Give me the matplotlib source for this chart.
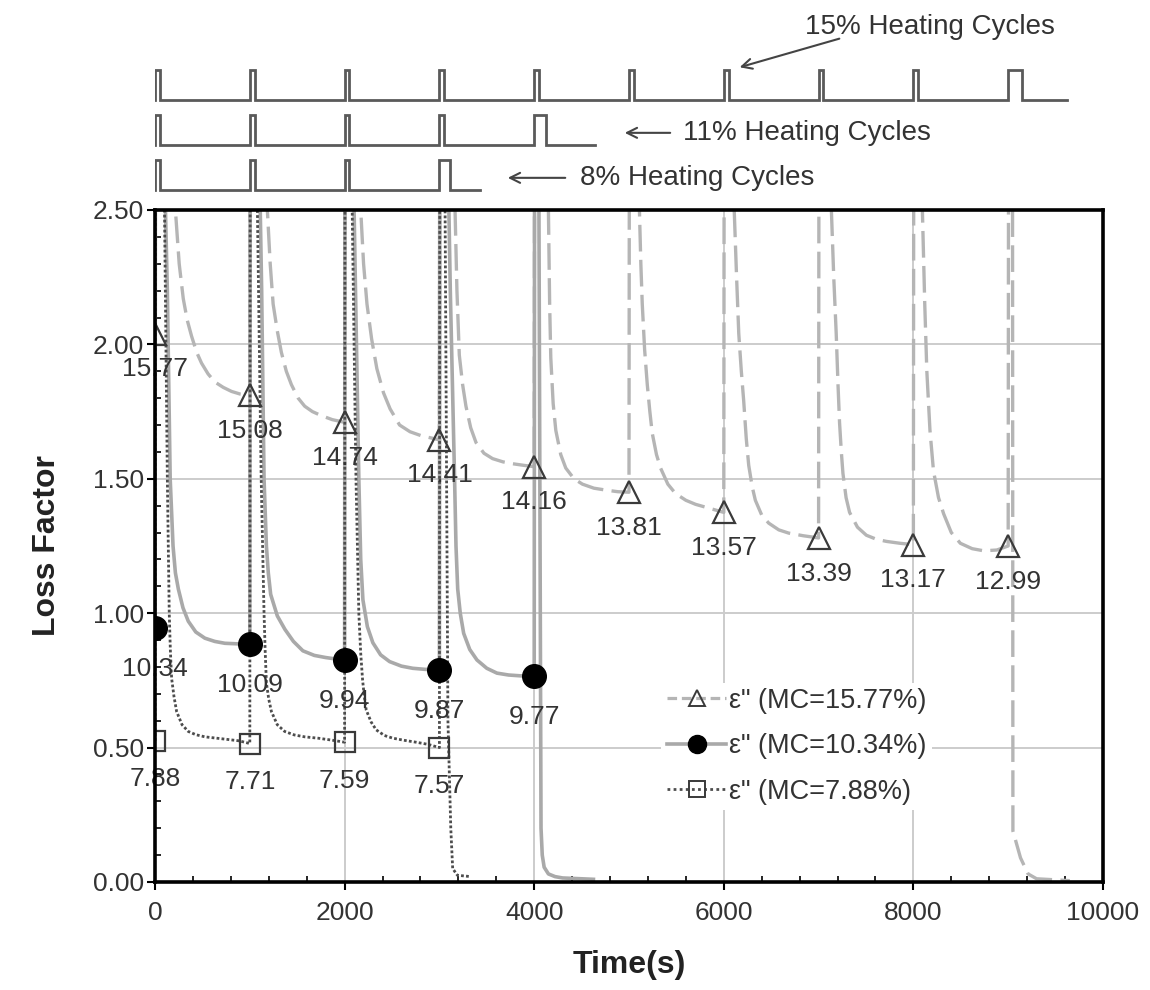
import matplotlib
matplotlib.use("Agg")
import matplotlib.pyplot as plt
from matplotlib.lines import Line2D
from matplotlib.ticker import MultipleLocator, FormatStrFormatter

plt.rcParams.update({'font.family': ['Liberation Sans', 'DejaVu Sans'], 'font.size': 19})

# ---- traced series (time in s, loss factor); values above 2.50 are clipped spikes ----
mc15_t = [0, 5, 200, 215, 255, 298, 340, 386, 440, 491, 560, 632, 720, 807, 900,
          1000, 1005, 1170, 1185, 1215, 1246, 1290, 1333, 1385, 1439, 1510, 1579, 1660, 1754, 1870,
          2000, 2005, 2155, 2170, 2200, 2236, 2285, 2340, 2410, 2480, 2580, 2690, 2810, 2935,
          3000, 3005, 3150, 3165, 3185, 3210, 3245, 3280, 3330, 3386, 3470, 3561, 3670, 3772, 3890,
          4000, 4005, 4135, 4150, 4163, 4175, 4200, 4228, 4280, 4333, 4420, 4509, 4630, 4754, 4880,
          5000, 5005, 5100, 5110, 5125, 5140, 5165, 5193, 5220, 5245, 5290, 5333, 5410, 5491, 5600, 5702, 5850,
          6000, 6005, 6100, 6110, 6135, 6158, 6185, 6210, 6237, 6263, 6300, 6333, 6400, 6474, 6580, 6684, 6840,
          7000, 7005, 7120, 7135, 7160, 7186, 7205, 7221, 7240, 7257, 7290, 7327, 7410, 7504, 7610, 7717, 7860,
          8000, 8005, 8080, 8095, 8120, 8142, 8175, 8212, 8265, 8319, 8400, 8496, 8620, 8743, 8880,
          9000, 9005, 9045, 9050, 9130, 9210, 9300, 9650]
mc15_v = [2.04, 3.2, 3.2, 2.5, 2.3, 2.17, 2.09, 2.03, 1.97, 1.93, 1.89, 1.86, 1.84, 1.825, 1.815,
          1.81, 3.2, 3.2, 2.5, 2.3, 2.15, 2.05, 1.97, 1.90, 1.85, 1.80, 1.77, 1.75, 1.735, 1.72,
          1.71, 3.2, 3.2, 2.5, 2.3, 2.15, 2.02, 1.91, 1.82, 1.76, 1.70, 1.675, 1.66, 1.65,
          1.645, 3.2, 3.2, 2.5, 2.2, 1.96, 1.85, 1.77, 1.69, 1.635, 1.595, 1.575, 1.563, 1.556, 1.55,
          1.545, 3.2, 3.2, 2.5, 2.15, 1.95, 1.78, 1.68, 1.59, 1.54, 1.50, 1.48, 1.465, 1.458, 1.452,
          1.45, 3.2, 3.2, 2.5, 2.3, 2.15, 1.98, 1.85, 1.75, 1.67, 1.59, 1.54, 1.48, 1.445, 1.42, 1.405, 1.39,
          1.375, 3.2, 3.2, 2.5, 2.25, 2.04, 1.9, 1.79, 1.65, 1.55, 1.47, 1.42, 1.365, 1.335, 1.31, 1.298, 1.288,
          1.28, 3.2, 3.2, 2.5, 2.25, 2.04, 1.85, 1.71, 1.6, 1.52, 1.43, 1.375, 1.32, 1.29, 1.275, 1.267, 1.26,
          1.255, 3.2, 3.2, 2.5, 2.15, 1.9, 1.68, 1.53, 1.43, 1.37, 1.30, 1.26, 1.24, 1.232, 1.235,
          1.25, 3.2, 3.2, 0.19, 0.09, 0.03, 0.012, 0.005]

mc10_t = [0, 5, 100, 110, 130, 160, 190, 215, 246, 295, 351, 430, 526, 630, 737, 870,
          1000, 1005, 1100, 1110, 1125, 1150, 1175, 1195, 1220, 1290, 1370, 1460, 1560, 1680, 1800, 1900,
          2000, 2005, 2090, 2100, 2115, 2150, 2170, 2193, 2240, 2298, 2380, 2474, 2600, 2719, 2850,
          3000, 3005, 3090, 3100, 3115, 3160, 3175, 3193, 3220, 3256, 3320, 3396, 3500, 3607, 3730, 3853,
          4000, 4005, 4040, 4050, 4072, 4085, 4105, 4150, 4220, 4300, 4625]
mc10_v = [0.944, 3.2, 3.2, 2.5, 2.2, 1.5, 1.25, 1.15, 1.09, 1.02, 0.97, 0.93, 0.907, 0.895, 0.888, 0.886,
          0.885, 3.2, 3.2, 2.5, 2.2, 1.5, 1.25, 1.15, 1.07, 0.99, 0.94, 0.895, 0.86, 0.843, 0.835, 0.83,
          0.826, 3.2, 3.2, 2.5, 2.2, 1.5, 1.2, 1.05, 0.95, 0.89, 0.845, 0.82, 0.803, 0.795, 0.791,
          0.79, 3.2, 3.2, 2.5, 2.2, 1.5, 1.25, 1.09, 1.0, 0.925, 0.865, 0.826, 0.795, 0.777, 0.77, 0.767,
          0.767, 3.2, 3.2, 2.5, 0.2, 0.1, 0.055, 0.03, 0.02, 0.015, 0.01]

mc7_t = [0, 5, 90, 100, 130, 150, 162, 175, 200, 228, 285, 351, 430, 526, 650, 772, 890,
         1000, 1005, 1070, 1080, 1120, 1150, 1162, 1175, 1200, 1228, 1290, 1368, 1470, 1579, 1720, 1860,
         2000, 2005, 2070, 2080, 2120, 2150, 2170, 2190, 2208, 2228, 2280, 2333, 2420, 2509, 2630, 2754, 2880,
         3000, 3005, 3050, 3060, 3090, 3120, 3140, 3190, 3330]
mc7_v = [0.525, 3.2, 3.2, 2.5, 1.5, 1.0, 0.86, 0.758, 0.69, 0.634, 0.585, 0.56, 0.548, 0.54, 0.535, 0.53, 0.525,
         0.515, 3.2, 3.2, 2.5, 1.5, 1.0, 0.86, 0.74, 0.68, 0.634, 0.585, 0.56, 0.547, 0.54, 0.535, 0.528,
         0.52, 3.2, 3.2, 2.5, 1.5, 1.0, 0.85, 0.75, 0.69, 0.64, 0.595, 0.566, 0.545, 0.535, 0.527, 0.52, 0.512,
         0.50, 3.2, 3.2, 2.5, 0.6, 0.2, 0.05, 0.025, 0.02]

# ---- markers and moisture-content labels ----
mk15_t = [0, 1000, 2000, 3000, 4000, 5000, 6000, 7000, 8000, 9000]
mk15_v = [2.04, 1.81, 1.71, 1.645, 1.545, 1.45, 1.375, 1.28, 1.255, 1.25]
mk15_lab = ["15.77", "15.08", "14.74", "14.41", "14.16", "13.81", "13.57", "13.39", "13.17", "12.99"]

mk10_t = [0, 1000, 2000, 3000, 4000]
mk10_v = [0.944, 0.885, 0.826, 0.79, 0.767]
mk10_lab = ["10.34", "10.09", "9.94", "9.87", "9.77"]

mk7_t = [0, 1000, 2000, 3000]
mk7_v = [0.525, 0.515, 0.52, 0.50]
mk7_lab = ["7.88", "7.71", "7.59", "7.57"]

# ---- heating schedules (pulse start, pulse width) ----
heat15_start = [0, 1000, 2000, 3000, 4000, 5000, 6000, 7000, 8000, 9000]
heat15_width = [50, 50, 50, 50, 50, 50, 50, 50, 50, 150]
heat15_end = 9620
heat11_start = [0, 1000, 2000, 3000, 4000]
heat11_width = [50, 50, 50, 50, 120]
heat11_end = 4640
heat8_start = [0, 1000, 2000, 3000]
heat8_width = [50, 50, 50, 110]
heat8_end = 3430

C15 = "#b5b5b5"
C10 = "#a9a9a9"
C7 = "#4d4d4d"
EDGE = "#3a3a3a"
TXT = "#333333"


def pulse_train(starts, widths, end, base, height=0.67):
    t, y = [], []
    for s, w in zip(starts, widths):
        t += [s, s, s + w, s + w]
        y += [base, base + height, base + height, base]
    t.append(end)
    y.append(base)
    return t, y


fig = plt.figure(figsize=(11.5, 9.9), dpi=100)
ax = fig.add_axes([0.1348, 0.1091, 0.8243, 0.6788])

ax.plot(mc15_t, mc15_v, color=C15, lw=2.4, ls=(0, (8, 2.5)), zorder=2)
ax.plot(mc10_t, mc10_v, color=C10, lw=2.6, ls='-', zorder=2)
ax.plot(mc7_t, mc7_v, color=C7, lw=2.0, ls=(0, (1, 0.8)), zorder=3)

ax.plot(mk15_t, mk15_v, ls='none', marker='^', ms=16, mfc='none', mec=EDGE, mew=1.6, zorder=4)
ax.plot(mk10_t, mk10_v, ls='none', marker='o', ms=17, mfc='black', mec='black', zorder=4)
ax.plot(mk7_t, mk7_v, ls='none', marker='s', ms=15, mfc='none', mec=EDGE, mew=1.6, zorder=4)

for t, v, s in zip(mk15_t, mk15_v, mk15_lab):
    ax.annotate(s, (t, v), xytext=(0, -17), textcoords='offset points',
                ha='center', va='top', fontsize=19, color=TXT, zorder=5)
for t, v, s in zip(mk10_t, mk10_v, mk10_lab):
    ax.annotate(s, (t, v), xytext=(0, -21), textcoords='offset points',
                ha='center', va='top', fontsize=19, color=TXT, zorder=5)
for t, v, s in zip(mk7_t, mk7_v, mk7_lab):
    ax.annotate(s, (t, v), xytext=(0, -19), textcoords='offset points',
                ha='center', va='top', fontsize=19, color=TXT, zorder=5)

ax.set_xlim(0, 10000)
ax.set_ylim(0, 2.5)
ax.xaxis.set_major_locator(MultipleLocator(2000))
ax.xaxis.set_minor_locator(MultipleLocator(400))
ax.yaxis.set_major_locator(MultipleLocator(0.5))
ax.yaxis.set_minor_locator(MultipleLocator(0.1))
ax.yaxis.set_major_formatter(FormatStrFormatter('%.2f'))
ax.tick_params(which='major', direction='out', length=6, width=1.5, labelsize=19,
               labelcolor=TXT)
ax.tick_params(axis='y', which='major', pad=2)
ax.tick_params(axis='x', which='major', pad=8)
ax.tick_params(which='minor', direction='in', length=4, width=1.2)
ax.grid(True, which='major', color='#cccccc', lw=1.4, zorder=0)
for sp in ax.spines.values():
    sp.set_linewidth(2.6)
    sp.set_zorder(6)

ax.set_xlabel("Time(s)", fontsize=23, fontweight='bold', color='#222222', labelpad=18)
ax.set_ylabel("Loss Factor", fontsize=23, fontweight='bold', color='#222222', labelpad=22)

handles = [
    Line2D([], [], color=C15, lw=2.3, ls=(0, (3, 1.5)), marker='^', ms=11, mfc='none', mec=EDGE, mew=1.4),
    Line2D([], [], color=C10, lw=2.6, ls='-', marker='o', ms=13, mfc='black', mec='black'),
    Line2D([], [], color=C7, lw=2.0, ls=(0, (1, 1.2)), marker='s', ms=11, mfc='none', mec=EDGE, mew=1.4),
]
labels = ['ε" (MC=15.77%)', 'ε" (MC=10.34%)', 'ε" (MC=7.88%)']
leg = ax.legend(handles, labels, loc='upper left', bbox_to_anchor=(0.52, 0.317),
                fontsize=19.5, frameon=True, facecolor='white', edgecolor='none', framealpha=1,
                handlelength=2.2, handletextpad=0.1, labelspacing=0.72, borderpad=0.2)
for txt in leg.get_texts():
    txt.set_color(TXT)
leg.set_zorder(5)

# ---- heating cycle schedules above the plot ----
top = fig.add_axes([0.1348, 0.798, 0.8243, 0.202])
top.set_xlim(0, 10000)
top.set_ylim(-0.222, 4.222)
top.axis('off')
for (st, wd, en, base) in [(heat15_start, heat15_width, heat15_end, 2),
                           (heat11_start, heat11_width, heat11_end, 1),
                           (heat8_start, heat8_width, heat8_end, 0)]:
    tt, yy = pulse_train(st, wd, en, base)
    top.plot(tt, yy, color='#5a5a5a', lw=2.0, solid_joinstyle='miter')

arrow = dict(arrowstyle='->', color='#444444', lw=1.5, mutation_scale=18)
top.text(6857, 3.62, "15% Heating Cycles", fontsize=20, color=TXT, va='center', ha='left')
top.annotate('', xy=(6139, 2.71), xytext=(7247, 3.38), arrowprops=arrow)
top.text(5570, 1.27, "11% Heating Cycles", fontsize=20, color=TXT, va='center', ha='left')
top.annotate('', xy=(4926, 1.27), xytext=(5464, 1.27), arrowprops=arrow)
top.text(4483, 0.27, "8% Heating Cycles", fontsize=20, color=TXT, va='center', ha='left')
top.annotate('', xy=(3692, 0.27), xytext=(4357, 0.27), arrowprops=arrow)

fig.savefig("out.png", dpi=100)
